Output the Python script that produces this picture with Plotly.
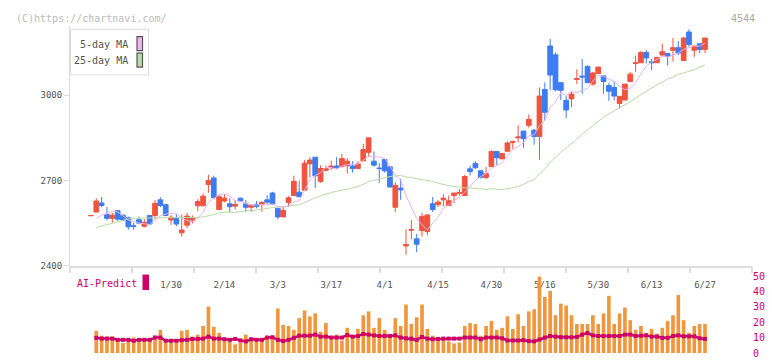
import plotly.graph_objects as go

W, H = 772, 361

# ---------------- data ----------------
tick_labels = ["1/30", "2/14", "3/3", "3/17", "4/1", "4/15", "4/30", "5/16", "5/30", "6/13", "6/27"]
tick_idx = [15, 25, 35, 45, 55, 65, 75, 85, 95, 105, 115]

opens = [2576, 2589, 2621, 2581, 2567, 2594, 2578, 2569, 2541, 2562,
         2539, 2577, 2577, 2632, 2615, 2561, 2567, 2516, 2543, 2558,
         2611, 2611, 2686, 2709, 2598, 2628, 2618, 2610, 2638, 2618,
         2606, 2616, 2615, 2632, 2656, 2602, 2572, 2623, 2647, 2659,
         2666, 2759, 2782, 2697, 2736, 2745, 2751, 2750, 2752, 2751,
         2742, 2769, 2799, 2768, 2744, 2774, 2748, 2606, 2673, 2470,
         2525, 2495, 2524, 2521, 2618, 2615, 2632, 2612, 2647, 2655,
         2647, 2741, 2760, 2734, 2711, 2749, 2802, 2776, 2803, 2834,
         2850, 2874, 2894, 2877, 2855, 3020, 3173, 3142, 3044, 2982,
         2987, 3055, 3067, 3101, 3039, 3076, 3068, 3034, 3027, 2971,
         2983, 3048, 3111, 3114, 3150, 3118, 3114, 3141, 3147, 3158,
         3167, 3122, 3222, 3158, 3181, 3161]
highs = [2577, 2637, 2642, 2607, 2586, 2594, 2581, 2573, 2552, 2573,
         2564, 2577, 2632, 2641, 2615, 2578, 2581, 2581, 2586, 2577,
         2634, 2655, 2720, 2717, 2649, 2652, 2638, 2632, 2640, 2632,
         2618, 2628, 2628, 2649, 2660, 2602, 2611, 2645, 2717, 2700,
         2772, 2782, 2782, 2753, 2753, 2770, 2782, 2794, 2779, 2768,
         2768, 2829, 2850, 2802, 2761, 2774, 2748, 2694, 2706, 2529,
         2561, 2512, 2586, 2579, 2642, 2632, 2652, 2647, 2656, 2670,
         2720, 2752, 2768, 2734, 2747, 2806, 2802, 2795, 2837, 2840,
         2894, 2874, 2932, 2881, 3027, 3045, 3198, 3150, 3044, 2997,
         3014, 3091, 3127, 3105, 3082, 3099, 3068, 3044, 3048, 2996,
         3039, 3082, 3139, 3156, 3159, 3127, 3133, 3181, 3147, 3201,
         3190, 3205, 3232, 3173, 3181, 3201]
lows = [2576, 2589, 2606, 2560, 2551, 2558, 2558, 2527, 2527, 2547,
        2535, 2547, 2564, 2606, 2574, 2544, 2539, 2503, 2533, 2549,
        2592, 2611, 2657, 2635, 2598, 2623, 2590, 2598, 2626, 2590,
        2590, 2602, 2590, 2617, 2615, 2564, 2572, 2607, 2647, 2643,
        2666, 2711, 2674, 2692, 2732, 2737, 2742, 2745, 2725, 2728,
        2742, 2769, 2782, 2749, 2692, 2728, 2677, 2589, 2632, 2439,
        2493, 2448, 2503, 2507, 2589, 2607, 2609, 2612, 2621, 2647,
        2647, 2718, 2741, 2707, 2705, 2749, 2755, 2776, 2803, 2811,
        2834, 2815, 2886, 2826, 2773, 2911, 3019, 3014, 2983, 2919,
        2958, 3039, 3005, 3044, 3033, 3076, 3005, 2980, 2982, 2953,
        2983, 3048, 3082, 3114, 3112, 3088, 3114, 3139, 3105, 3118,
        3141, 3122, 3170, 3135, 3148, 3148]
closes = [2577, 2628, 2612, 2567, 2578, 2564, 2561, 2537, 2539, 2550,
          2553, 2547, 2620, 2612, 2577, 2571, 2547, 2526, 2575, 2567,
          2626, 2645, 2700, 2640, 2643, 2638, 2608, 2616, 2628, 2606,
          2612, 2609, 2623, 2624, 2618, 2572, 2595, 2639, 2697, 2643,
          2761, 2772, 2717, 2742, 2741, 2751, 2745, 2777, 2768, 2742,
          2758, 2809, 2850, 2754, 2742, 2734, 2677, 2683, 2667, 2475,
          2528, 2476, 2574, 2579, 2598, 2624, 2638, 2629, 2656, 2658,
          2714, 2732, 2745, 2711, 2724, 2802, 2780, 2795, 2832, 2837,
          2853, 2847, 2915, 2855, 2997, 2940, 3071, 3019, 3017, 2948,
          3004, 3058, 3064, 3044, 3078, 3099, 3048, 3014, 2997, 2996,
          3039, 3074, 3114, 3150, 3131, 3114, 3133, 3153, 3137, 3167,
          3148, 3201, 3178, 3173, 3161, 3201]

ma5 = [None, 2567, 2578, 2583, 2592, 2590, 2576, 2561, 2556, 2550,
       2548, 2545, 2562, 2576, 2582, 2585, 2585, 2567, 2559, 2557,
       2568, 2588, 2623, 2636, 2651, 2653, 2646, 2629, 2627, 2619,
       2614, 2614, 2616, 2615, 2617, 2609, 2606, 2610, 2624, 2629,
       2667, 2702, 2718, 2727, 2747, 2745, 2739, 2751, 2756, 2757,
       2758, 2771, 2785, 2783, 2783, 2778, 2751, 2718, 2701, 2647,
       2606, 2566, 2544, 2526, 2551, 2570, 2603, 2614, 2629, 2641,
       2659, 2678, 2701, 2712, 2725, 2743, 2752, 2762, 2787, 2809,
       2819, 2833, 2857, 2861, 2893, 2911, 2956, 2976, 3009, 2999,
       3012, 3009, 3018, 3024, 3050, 3069, 3067, 3057, 3047, 3031,
       3019, 3024, 3044, 3075, 3102, 3117, 3128, 3136, 3134, 3141,
       3148, 3161, 3166, 3173, 3172, 3183]
ma25 = [None, 2535, 2540, 2546, 2551, 2556, 2561, 2565, 2567, 2568,
        2569, 2569, 2569, 2569, 2569, 2569, 2569, 2569, 2569, 2569,
        2570, 2572, 2575, 2580, 2586, 2589, 2588, 2588, 2591, 2592,
        2594, 2596, 2599, 2603, 2605, 2606, 2608, 2609, 2612, 2615,
        2622, 2631, 2639, 2646, 2653, 2658, 2662, 2665, 2670, 2674,
        2679, 2687, 2696, 2701, 2706, 2711, 2714, 2716, 2718, 2712,
        2711, 2706, 2703, 2699, 2697, 2691, 2686, 2682, 2679, 2676,
        2674, 2674, 2672, 2670, 2669, 2671, 2670, 2668, 2671, 2675,
        2679, 2686, 2696, 2703, 2724, 2740, 2764, 2782, 2800, 2814,
        2829, 2846, 2863, 2878, 2895, 2911, 2923, 2934, 2946, 2956,
        2966, 2978, 2990, 3003, 3015, 3025, 3037, 3046, 3058, 3064,
        3073, 3078, 3084, 3090, 3099, 3107]

volume = [None, 14.5, 11.3, 10.7, 10.7, 8.2, 6.5, 8.2, 10.1, 8.6,
          8.6, 8.6, 11.3, 15.1, 6.9, 7.6, 8.6, 14.5, 15.1, 10.7,
          12.0, 17.6, 30.2, 17.0, 13.2, 8.6, 7.6, 5.7, 6.9, 12.0,
          8.2, 8.6, 8.6, 10.1, 10.1, 29.0, 18.3, 17.6, 15.1, 22.7,
          27.7, 23.9, 25.8, 13.9, 19.5, 10.7, 12.0, 8.2, 16.4, 11.3,
          15.7, 24.6, 27.1, 16.4, 22.7, 15.1, 12.5, 22.7, 17.6, 31.5,
          18.9, 23.3, 31.5, 15.7, 11.3, 9.4, 10.1, 7.6, 6.3, 6.9,
          17.6, 19.5, 18.9, 11.3, 17.6, 20.8, 15.1, 16.4, 23.9, 15.7,
          25.2, 17.6, 27.1, 28.5, 49.7, 36.5, 40.3, 24.6, 32.1, 30.9,
          24.6, 18.9, 18.9, 18.9, 24.6, 18.9, 25.8, 37.2, 18.9, 25.8,
          29.6, 21.4, 15.1, 17.6, 13.2, 15.7, 12.6, 16.4, 20.8, 24.6,
          37.8, 21.4, 13.2, 17.6, 18.9, 18.9]
ai_predict = [None, 9.9, 9.4, 9.4, 9.4, 8.6, 8.6, 8.6, 8.0, 8.6,
              8.6, 8.6, 10.1, 10.1, 8.0, 8.0, 8.0, 8.4, 8.6, 9.2,
              9.2, 9.4, 10.7, 9.4, 9.4, 9.0, 8.6, 9.2, 8.2, 7.6,
              9.0, 8.6, 8.6, 10.1, 10.3, 8.6, 7.8, 8.6, 9.9, 11.3,
              11.3, 11.3, 12.0, 10.7, 10.7, 10.1, 10.1, 10.1, 11.7, 10.7,
              11.1, 12.4, 12.0, 11.5, 11.1, 11.1, 11.1, 11.5, 10.1, 9.6,
              9.4, 8.6, 10.5, 9.4, 9.0, 9.2, 9.4, 9.4, 9.4, 9.4,
              10.1, 10.1, 10.1, 9.0, 10.1, 10.1, 10.1, 9.6, 8.2, 8.2,
              8.2, 8.4, 7.8, 7.6, 8.8, 10.1, 11.1, 10.7, 10.3, 10.3,
              10.3, 10.5, 12.0, 13.0, 11.5, 11.1, 11.1, 11.1, 11.1, 11.1,
              12.0, 12.0, 11.1, 11.3, 11.5, 10.7, 10.7, 9.9, 9.9, 11.1,
              11.5, 10.9, 10.9, 10.9, 9.6, 9.2]

idx = list(range(len(closes)))

# ---------------- styling ----------------
FONT = "DejaVu Sans Mono"
RED = "#F0543F"
BLUE = "#3D7CF0"
ORANGE = "#F0963C"
MAGENTA = "#CC0066"
PINK = "#E8B4EC"
GREEN = "#B6DCA2"
AXIS = "#DDDDDD"


def px(x):
    return x / W


def py(y):
    return 1 - y / H


x_range = [-3.925, 123.8]
n_minor = 12
minor_ticks = [x_range[0] + (x_range[1] - x_range[0]) * i / (n_minor - 1) for i in range(n_minor)]

fig = go.Figure()

fig.add_trace(go.Scatter(x=idx, y=ma25, mode="lines", line=dict(color=GREEN, width=1),
                         xaxis="x", yaxis="y", showlegend=False, hoverinfo="skip"))
fig.add_trace(go.Scatter(x=idx, y=ma5, mode="lines", line=dict(color=PINK, width=1),
                         xaxis="x", yaxis="y", showlegend=False, hoverinfo="skip"))
fig.add_trace(go.Candlestick(
    x=idx, open=opens, high=highs, low=lows, close=closes,
    increasing=dict(line=dict(color=RED, width=1), fillcolor=RED),
    decreasing=dict(line=dict(color=BLUE, width=1), fillcolor=BLUE),
    whiskerwidth=0, xaxis="x", yaxis="y", showlegend=False))

fig.add_trace(go.Bar(x=idx, y=volume, marker=dict(color=ORANGE, line=dict(width=0)),
                     width=0.68, xaxis="x2", yaxis="y2", showlegend=False))
fig.add_trace(go.Scatter(x=idx, y=ai_predict, mode="lines+markers",
                         line=dict(color=MAGENTA, width=2.5),
                         marker=dict(symbol="square", size=4, color=MAGENTA),
                         xaxis="x2", yaxis="y2", showlegend=False))

# a dummy trace so xaxis3 (tick marks) is drawn
fig.add_trace(go.Scatter(x=[x_range[0]], y=[None], xaxis="x3", yaxis="y",
                         showlegend=False, hoverinfo="skip"))

dom_x = [px(70), px(752)]

fig.update_layout(
    width=W, height=H,
    margin=dict(l=0, r=0, t=0, b=0),
    paper_bgcolor="white", plot_bgcolor="white",
    font=dict(family=FONT, size=9, color="#555555"),
    boxgap=0.1, boxgroupgap=0.02,
    xaxis=dict(domain=dom_x, range=x_range, anchor="y",
               tickvals=tick_idx, ticktext=tick_labels,
               ticks="outside", ticklen=9, tickcolor="rgba(0,0,0,0)",
               showline=True, linecolor=AXIS, linewidth=2,
               showgrid=False, zeroline=False,
               rangeslider=dict(visible=False),
               tickfont=dict(family=FONT, size=9, color="#555555")),
    xaxis3=dict(overlaying="x", range=x_range, anchor="y",
                tickvals=minor_ticks, ticks="outside", ticklen=6,
                tickcolor=AXIS, tickwidth=2, showticklabels=False,
                showgrid=False, zeroline=False, showline=False, side="bottom"),
    yaxis=dict(domain=[py(268), py(20)], range=[2400, 2400 + 248 * 3.409], anchor="x",
               tickvals=[2400, 2700, 3000], ticks="outside", ticklen=5,
               tickcolor=AXIS, showline=True, linecolor=AXIS, linewidth=1,
               showgrid=False, zeroline=False,
               tickfont=dict(family=FONT, size=9, color="#555555")),
    xaxis2=dict(domain=dom_x, range=x_range, anchor="y2", visible=False),
    yaxis2=dict(domain=[py(358), py(278.6)], range=[0, 50], anchor="x2", side="right",
                tickvals=[0, 10, 20, 30, 40, 50], ticks="", showline=False,
                showgrid=False, zeroline=False,
                tickfont=dict(family=FONT, size=10, color=MAGENTA)),
)

shapes = [
    # MA legend box
    dict(type="rect", xref="paper", yref="paper", x0=px(70.5), x1=px(148.5), y0=py(71), y1=py(24),
         line=dict(color=AXIS, width=1), fillcolor="white", layer="above"),
    dict(type="rect", xref="paper", yref="paper", x0=px(137), x1=px(142.5), y0=py(46), y1=py(31.5),
         line=dict(color="#555555", width=1.2), fillcolor="#F0B8F0", layer="above"),
    dict(type="rect", xref="paper", yref="paper", x0=px(137), x1=px(142.5), y0=py(63), y1=py(48.7),
         line=dict(color="#555555", width=1.2), fillcolor="#B8DCA8", layer="above"),
    # AI-Predict swatch
    dict(type="rect", xref="paper", yref="paper", x0=px(142.5), x1=px(149), y0=py(293), y1=py(277),
         line=dict(width=0), fillcolor=MAGENTA, layer="above"),
]
fig.update_layout(shapes=shapes)

annotations = [
    dict(text="(C)https://chartnavi.com/", x=px(14), y=py(12.5), xref="paper", yref="paper",
         xanchor="left", yanchor="middle", showarrow=False,
         font=dict(family=FONT, size=10, color="#BBBBBB")),
    dict(text="4544", x=px(757), y=py(12.5), xref="paper", yref="paper",
         xanchor="right", yanchor="middle", showarrow=False,
         font=dict(family=FONT, size=10, color="#AAAAAA")),
    dict(text="5-day MA", x=px(130), y=py(39.5), xref="paper", yref="paper",
         xanchor="right", yanchor="middle", showarrow=False,
         font=dict(family=FONT, size=10, color="#555555")),
    dict(text="25-day MA", x=px(130), y=py(56.5), xref="paper", yref="paper",
         xanchor="right", yanchor="middle", showarrow=False,
         font=dict(family=FONT, size=10, color="#555555")),
    dict(text="AI-Predict", x=px(75), y=py(286), xref="paper", yref="paper",
         xanchor="left", yanchor="middle", showarrow=False,
         font=dict(family=FONT, size=10, color=MAGENTA)),
]
fig.update_layout(annotations=annotations)

fig.write_html(
    "out.html",
    config={"displayModeBar": False, "responsive": False},
    post_script="document.body.style.margin='0';document.body.style.overflow='hidden';",
)
